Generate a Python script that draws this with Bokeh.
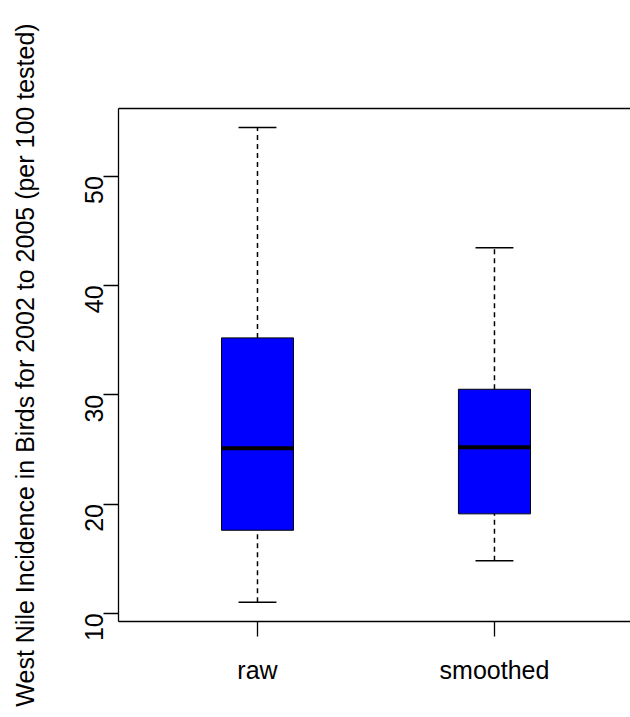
import numpy as np
from bokeh.plotting import figure
from bokeh.models import Range1d, LinearAxis, FixedTicker
from bokeh.embed import file_html
from bokeh.resources import INLINE

# ---- data ----
groups = ["raw", "smoothed"]
positions = [1, 2]
lower_whisker = [11.0, 14.8]
q1 = [17.6, 19.1]
median = [25.1, 25.2]
q3 = [35.2, 30.5]
upper_whisker = [54.45, 43.45]
y_ticks = [10, 20, 30, 40, 50]

FONT = "Liberation Sans"
FS = "25px"

box_half = 0.152
cap_half = 0.08

pos = np.array(positions, dtype=float)

p = figure(width=630, height=717, output_backend="svg", toolbar_location=None,
           x_range=Range1d(0.4135, 2.574), y_range=Range1d(9.25, 56.19),
           min_border_left=118, min_border_right=0, min_border_top=108,
           min_border_bottom=96)
p.outline_line_color = None
p.grid.visible = False
p.background_fill_color = "white"
p.border_fill_color = "white"

# x axis
xa = p.xaxis[0]
xa.ticker = FixedTicker(ticks=positions)
xa.major_label_overrides = {pp: g for pp, g in zip(positions, groups)}
xa.minor_tick_line_color = None
xa.major_tick_in = 0
xa.major_tick_out = 15
xa.major_label_standoff = 19
xa.major_label_text_font = FONT
xa.major_label_text_font_size = FS
xa.major_label_text_color = "black"
xa.axis_line_width = 1.3
xa.major_tick_line_width = 1.3

# y axis
ya = p.yaxis[0]
ya.ticker = FixedTicker(ticks=y_ticks)
ya.minor_tick_line_color = None
ya.major_tick_in = 0
ya.major_tick_out = 15
ya.major_label_orientation = np.pi / 2
ya.major_label_standoff = 9
ya.major_label_text_font = FONT
ya.major_label_text_font_size = FS
ya.major_label_text_color = "black"
ya.axis_line_width = 1.3
ya.major_tick_line_width = 1.3
ya.axis_label = "West Nile Incidence in Birds for 2002 to 2005 (per 100 tested)"
ya.axis_label_text_font = FONT
ya.axis_label_text_font_size = "25px"
ya.axis_label_text_font_style = "normal"
ya.axis_label_text_color = "black"
ya.axis_label_standoff = 35

# top border of the frame
top = LinearAxis(ticker=FixedTicker(ticks=[]), major_tick_out=0, major_tick_in=0,
                 minor_tick_out=0, minor_tick_in=0, major_label_text_font_size="0px",
                 axis_line_width=1.3)
p.add_layout(top, "above")

# whiskers (dashed)
p.segment(x0=pos, x1=pos, y0=q3, y1=upper_whisker, line_color="black",
          line_width=1.5, line_dash="5 4")
p.segment(x0=pos, x1=pos, y0=lower_whisker, y1=q1, line_color="black",
          line_width=1.5, line_dash="5 4")
# whisker caps
p.segment(x0=pos - cap_half, x1=pos + cap_half, y0=upper_whisker, y1=upper_whisker,
          line_color="black", line_width=1.5)
p.segment(x0=pos - cap_half, x1=pos + cap_half, y0=lower_whisker, y1=lower_whisker,
          line_color="black", line_width=1.5)
# boxes
p.vbar(x=pos, width=2 * box_half, bottom=q1, top=q3, fill_color="#0000FF",
       line_color="black", line_width=1)
# medians
p.segment(x0=pos - box_half, x1=pos + box_half, y0=median, y1=median,
          line_color="black", line_width=4)

open("out.html", "w").write(file_html(p, INLINE))
